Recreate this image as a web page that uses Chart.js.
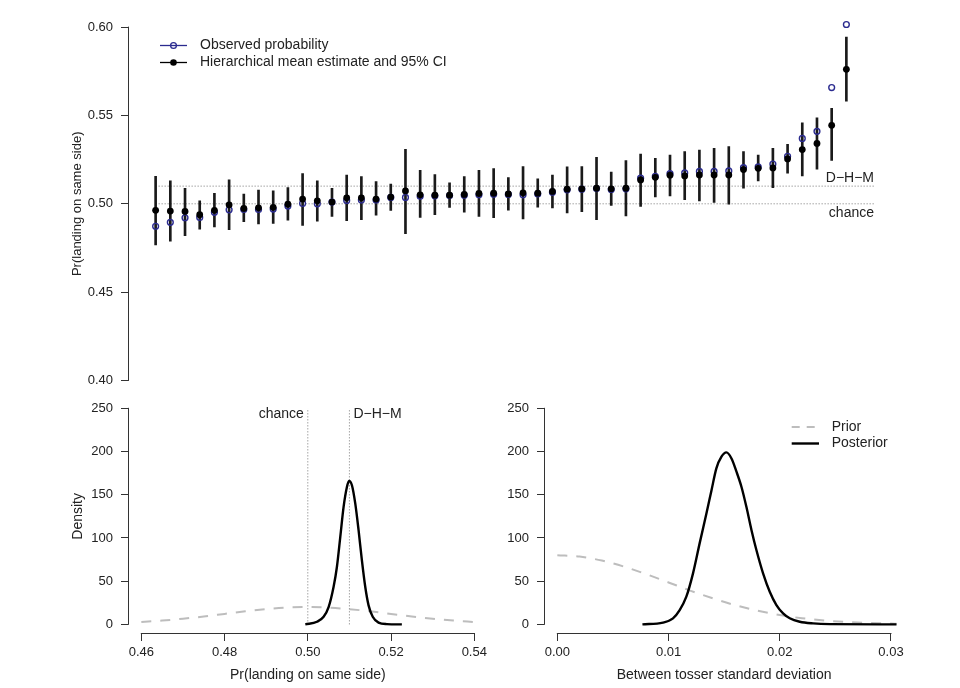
<!DOCTYPE html>
<html><head><meta charset="utf-8">
<script src="https://cdn.jsdelivr.net/npm/chart.js@4.4.1/dist/chart.umd.min.js"></script>
<style>
html,body{margin:0;padding:0;background:#fff;}
#wrap{position:relative;width:960px;height:688px;overflow:hidden;background:#fff;}
#wrap canvas{position:absolute;}
</style></head><body>
<div id="wrap">
<canvas id="top" width="960" height="400" style="left:0;top:0;width:960px;height:400px"></canvas>
<canvas id="bl" width="490" height="298" style="left:0;top:390px;width:490px;height:298px"></canvas>
<canvas id="br" width="544" height="298" style="left:416px;top:390px;width:544px;height:298px"></canvas>
</div>
<script>
// ---------- data ----------
const observed = [0.4873,0.4895,0.4921,0.4923,0.4952,0.4966,0.4968,0.4968,0.4970,0.4987,
  0.5002,0.5000,0.5010,0.5019,0.5021,0.5021,0.5036,0.5036,0.5043,0.5045,
  0.5047,0.5049,0.5051,0.5054,0.5053,0.5051,0.5056,0.5066,0.5079,0.5083,
  0.5086,0.5081,0.5085,0.5145,0.5156,0.5171,0.5175,0.5183,0.5183,0.5186,
  0.5205,0.5209,0.5225,0.5269,0.5370,0.5410,0.5658,0.6015];
const estimate = [0.4963,0.4959,0.4957,0.4938,0.4963,0.4994,0.4974,0.4977,0.4980,0.4998,
  0.5027,0.5017,0.5010,0.5034,0.5034,0.5027,0.5038,0.5073,0.5051,0.5049,
  0.5049,0.5053,0.5059,0.5060,0.5056,0.5062,0.5060,0.5070,0.5083,0.5085,
  0.5088,0.5085,0.5088,0.5135,0.5150,0.5162,0.5158,0.5163,0.5163,0.5163,
  0.5194,0.5201,0.5203,0.5254,0.5307,0.5342,0.5444,0.5761];
const ciLower = [0.4767,0.4788,0.4820,0.4856,0.4869,0.4853,0.4899,0.4886,0.4889,0.4908,
  0.4878,0.4901,0.4929,0.4904,0.4910,0.4935,0.4963,0.4831,0.4923,0.4938,
  0.4980,0.4952,0.4929,0.4921,0.4964,0.4915,0.4981,0.4976,0.4948,0.4955,
  0.4910,0.4991,0.4931,0.4985,0.5039,0.5045,0.5023,0.5017,0.5008,0.4998,
  0.5088,0.5130,0.5092,0.5173,0.5158,0.5196,0.5245,0.5581];
const ciUpper = [0.5155,0.5130,0.5088,0.5017,0.5059,0.5135,0.5055,0.5077,0.5073,0.5092,
  0.5171,0.5130,0.5088,0.5163,0.5154,0.5126,0.5111,0.5308,0.5190,0.5166,
  0.5118,0.5154,0.5190,0.5200,0.5149,0.5211,0.5141,0.5163,0.5209,0.5211,
  0.5263,0.5179,0.5245,0.5282,0.5258,0.5276,0.5295,0.5304,0.5314,0.5324,
  0.5295,0.5276,0.5314,0.5337,0.5459,0.5487,0.5540,0.5944];
const refChance = 0.50;
const refDHM = 0.51;
const topYTicks = [0.40,0.45,0.50,0.55,0.60];

const meanPriorX = [0.460,0.465,0.470,0.475,0.480,0.485,0.490,0.495,0.500,0.505,0.510,0.515,0.520,0.525,0.530,0.535,0.540];
const meanPriorY = [2.7,4.4,6.5,9.1,12.1,15.1,17.6,19.4,20.0,19.4,17.6,15.1,12.1,9.1,6.5,4.4,2.7];
const meanPostX = [0.4994,0.5022,0.5038,0.5050,0.5062,0.5070,0.5078,0.5086,0.5094,0.5099,0.5106,0.5114,0.5122,0.5130,0.5138,0.5146,0.5156,0.5170,0.5190,0.5226];
const meanPostY = [0,3,8.8,20,43.5,66.7,101,136,159,166,161,140,109,74,43.5,22,8.8,2,0.3,0];
const blXTicks = [0.46,0.48,0.50,0.52,0.54];

const sdPriorX = [0,0.002,0.004,0.006,0.008,0.010,0.012,0.014,0.016,0.018,0.020,0.022,0.024,0.026,0.028,0.030,0.0305];
const sdPriorY = [80,78.4,73.8,66.8,58.1,48.5,38.8,30.0,22.2,15.8,10.8,7.1,4.5,2.7,1.6,0.9,0.8];
const sdPostX = [0.00765,0.0095,0.0104,0.0110,0.0116,0.0122,0.0128,0.0134,0.01386,0.0143,0.01476,0.0152,0.01566,0.0161,0.01656,0.0170,0.01746,0.0179,0.0185,0.0191,0.0197,0.0203,0.0209,0.0218,0.0230,0.0245,0.0305];
const sdPostY = [0,2,7,16.5,32,59,94,128,155,180.5,194,199,192,177,159,136,109,86,59,37.7,22.3,12.7,7,3,1.1,0.3,0];
const brXTicks = [0.00,0.01,0.02,0.03];
const densYTicks = [0,50,100,150,200,250];

// ---------- style ----------
const FONT = "'Liberation Sans', Arial, Helvetica, sans-serif";
const TXT = '#222';
const AX = '#333';
const NAVY = '#2b2b8f';
const GREY_DASH = '#bdbdbd';
const DOT = '#777';
Chart.defaults.font.family = FONT;
Chart.defaults.color = TXT;
Chart.defaults.animation = false;

const rAxes = {
  id: 'rAxes',
  afterDraw(chart, args, opts) {
    const ctx = chart.ctx, a = chart.chartArea;
    ctx.save(); ctx.strokeStyle = AX; ctx.lineWidth = 1;
    (opts.axes || []).forEach(id => {
      const s = chart.scales[id]; const t = s.ticks;
      if (!t || !t.length) return;
      const p0 = s.getPixelForValue(t[0].value), p1 = s.getPixelForValue(t[t.length - 1].value);
      ctx.beginPath();
      if (s.isHorizontal()) { const y = Math.round(a.bottom) + 0.5; ctx.moveTo(p0 - 0.5, y); ctx.lineTo(p1 + 0.5, y); }
      else { const x = Math.round(a.left) + 0.5; ctx.moveTo(x, p0 + 0.5); ctx.lineTo(x, p1 - 0.5); }
      ctx.stroke();
    });
    ctx.restore();
  }
};
Chart.register(rAxes);

function yAxis(ticks, fmt, title, titleSize) {
  return {
    type: 'linear',
    afterBuildTicks: s => { s.ticks = ticks.map(v => ({ value: v })); },
    afterFit: s => { s.width = 128; s.paddingTop = 0; s.paddingBottom = 0; },
    border: { display: false },
    grid: { drawOnChartArea: false, drawTicks: true, tickLength: 7, color: AX },
    ticks: { padding: 8, font: { size: 13 }, color: TXT, callback: fmt },
    title: { display: !!title, text: title || '', font: { size: titleSize || 14 }, color: TXT, padding: { top: 70, bottom: 0 } }
  };
}
function xAxis(ticks, title, min, max) {
  return {
    type: 'linear', min, max, offset: false,
    afterBuildTicks: s => { s.ticks = ticks.map(v => ({ value: v })); },
    afterFit: s => { s.height = 55; s.paddingLeft = 0; s.paddingRight = 0; },
    border: { display: false },
    grid: { drawOnChartArea: false, drawTicks: true, tickLength: 8, color: AX, offset: false },
    ticks: { padding: 4, font: { size: 13 }, color: TXT, maxRotation: 0, autoSkip: false, callback: v => v.toFixed(2) },
    title: { display: true, text: title, font: { size: 14 }, color: TXT, padding: { top: 0, bottom: 4.5 } }
  };
}

// ---------- top panel ----------
const idx = observed.map((_, i) => i + 1);
const topText = {
  id: 'topText',
  afterDraw(chart) {
    const ctx = chart.ctx, a = chart.chartArea, ys = chart.scales.y;
    ctx.save();
    ctx.font = '14px ' + FONT; ctx.fillStyle = TXT;
    ctx.textAlign = 'right'; ctx.textBaseline = 'middle';
    ctx.fillText('D\u2212H\u2212M', a.right, ys.getPixelForValue(refDHM) - 8);
    ctx.fillText('chance', a.right, ys.getPixelForValue(refChance) + 9);
    // legend
    ctx.textAlign = 'left';
    ctx.fillText('Observed probability', 200, 45);
    ctx.fillText('Hierarchical mean estimate and 95% CI', 200, 62.5);
    ctx.strokeStyle = NAVY; ctx.lineWidth = 1.3;
    ctx.beginPath(); ctx.moveTo(160, 45.5); ctx.lineTo(187, 45.5); ctx.stroke();
    ctx.beginPath(); ctx.arc(173.5, 45.5, 2.9, 0, Math.PI * 2); ctx.stroke();
    ctx.strokeStyle = '#000'; ctx.fillStyle = '#000';
    ctx.beginPath(); ctx.moveTo(160, 62.5); ctx.lineTo(187, 62.5); ctx.stroke();
    ctx.beginPath(); ctx.arc(173.5, 62.5, 3.3, 0, Math.PI * 2); ctx.fill();
    ctx.restore();
  }
};
new Chart(document.getElementById('top'), {
  type: 'scatter',
  data: {
    datasets: [
      { label: 'Hierarchical mean estimate and 95% CI', order: 0,
        data: idx.map((x, i) => ({ x, y: estimate[i] })),
        pointRadius: 3.4, pointBackgroundColor: '#000', pointBorderColor: '#000', pointBorderWidth: 0 },
      { label: 'Observed probability', order: 1,
        data: idx.map((x, i) => ({ x, y: observed[i] })),
        pointRadius: 2.9, pointBackgroundColor: 'rgba(0,0,0,0)', pointBorderColor: NAVY, pointBorderWidth: 1.4 },
      { type: 'bar', label: '95% CI', order: 2,
        data: idx.map((x, i) => ({ x, y: [ciLower[i], ciUpper[i]] })),
        backgroundColor: '#1a1a1a', borderWidth: 0, barThickness: 2 },
      { type: 'line', label: 'D-H-M', order: 3, data: [{ x: 1, y: refDHM }, { x: 50, y: refDHM }],
        borderColor: DOT, borderWidth: 1, borderDash: [1, 2], pointRadius: 0 },
      { type: 'line', label: 'chance', order: 3, data: [{ x: 1, y: refChance }, { x: 50, y: refChance }],
        borderColor: DOT, borderWidth: 1, borderDash: [1, 2], pointRadius: 0 }
    ]
  },
  options: {
    responsive: false, animation: false,
    layout: { padding: { top: 13, right: 86, bottom: 0, left: 0 } },
    plugins: { legend: { display: false }, tooltip: { enabled: false }, rAxes: { axes: ['y'] } },
    scales: {
      x: { type: 'linear', min: -0.88, max: 49.88, display: false, offset: false, grid: { offset: false } },
      y: Object.assign(yAxis(topYTicks, v => v.toFixed(2), 'Pr(landing on same side)', 13), { min: 0.392, max: 0.608 })
    }
  },
  plugins: [topText]
});

// ---------- bottom left ----------
const blText = {
  id: 'blText',
  afterDraw(chart) {
    const ctx = chart.ctx, xs = chart.scales.x, ys = chart.scales.y;
    ctx.save();
    ctx.font = '14px ' + FONT; ctx.fillStyle = TXT; ctx.textBaseline = 'middle';
    ctx.textAlign = 'right';
    ctx.fillText('chance', xs.getPixelForValue(refChance) - 4, ys.getPixelForValue(243.5));
    ctx.textAlign = 'left';
    ctx.fillText('D\u2212H\u2212M', xs.getPixelForValue(refDHM) + 4, ys.getPixelForValue(243.5));
    ctx.restore();
  }
};
new Chart(document.getElementById('bl'), {
  type: 'line',
  data: {
    datasets: [
      { label: 'Posterior', order: 0, data: meanPostX.map((x, i) => ({ x, y: meanPostY[i] })),
        borderColor: '#000', borderWidth: 2.4, pointRadius: 0, cubicInterpolationMode: 'monotone' },
      { label: 'chance', order: 1, data: [{ x: refChance, y: 0 }, { x: refChance, y: 250 }],
        borderColor: DOT, borderWidth: 1, borderDash: [1, 2], pointRadius: 0 },
      { label: 'D-H-M', order: 1, data: [{ x: refDHM, y: 0 }, { x: refDHM, y: 250 }],
        borderColor: DOT, borderWidth: 1, borderDash: [1, 2], pointRadius: 0 },
      { label: 'Prior', order: 2, data: meanPriorX.map((x, i) => ({ x, y: meanPriorY[i] })),
        borderColor: GREY_DASH, borderWidth: 2, borderDash: [10, 9], pointRadius: 0, cubicInterpolationMode: 'monotone' }
    ]
  },
  options: {
    responsive: false, animation: false,
    layout: { padding: { top: 9.7, right: 2.4, bottom: 0, left: 0 } },
    plugins: { legend: { display: false }, tooltip: { enabled: false }, rAxes: { axes: ['x', 'y'] } },
    scales: {
      x: xAxis(blXTicks, 'Pr(landing on same side)', 0.4568, 0.5432),
      y: Object.assign(yAxis(densYTicks, v => String(v), 'Density'), { min: -10, max: 260 })
    }
  },
  plugins: [blText]
});

// ---------- bottom right ----------
const brLegend = {
  id: 'brLegend',
  afterDraw(chart) {
    const ctx = chart.ctx;
    ctx.save();
    ctx.font = '14px ' + FONT; ctx.fillStyle = TXT; ctx.textBaseline = 'middle'; ctx.textAlign = 'left';
    ctx.fillText('Prior', 415.7, 36.7);
    ctx.fillText('Posterior', 415.7, 53.3);
    ctx.strokeStyle = GREY_DASH; ctx.lineWidth = 2; ctx.setLineDash([8, 7]);
    ctx.beginPath(); ctx.moveTo(375.7, 37); ctx.lineTo(403, 37); ctx.stroke();
    ctx.setLineDash([]); ctx.strokeStyle = '#000'; ctx.lineWidth = 2.4;
    ctx.beginPath(); ctx.moveTo(375.7, 53.5); ctx.lineTo(403, 53.5); ctx.stroke();
    ctx.restore();
  }
};
new Chart(document.getElementById('br'), {
  type: 'line',
  data: {
    datasets: [
      { label: 'Posterior', order: 0, data: sdPostX.map((x, i) => ({ x, y: sdPostY[i] })),
        borderColor: '#000', borderWidth: 2.4, pointRadius: 0, cubicInterpolationMode: 'monotone' },
      { label: 'Prior', order: 1, data: sdPriorX.map((x, i) => ({ x, y: sdPriorY[i] })),
        borderColor: GREY_DASH, borderWidth: 2, borderDash: [10, 9], pointRadius: 0, cubicInterpolationMode: 'monotone' }
    ]
  },
  options: {
    responsive: false, animation: false,
    layout: { padding: { top: 9.7, right: 55.7, bottom: 0, left: 0 } },
    plugins: { legend: { display: false }, tooltip: { enabled: false }, rAxes: { axes: ['x', 'y'] } },
    scales: {
      x: xAxis(brXTicks, 'Between tosser standard deviation', -0.0012, 0.0312),
      y: Object.assign(yAxis(densYTicks, v => String(v), null), { min: -10, max: 260 })
    }
  },
  plugins: [brLegend]
});
</script>
</body></html>
